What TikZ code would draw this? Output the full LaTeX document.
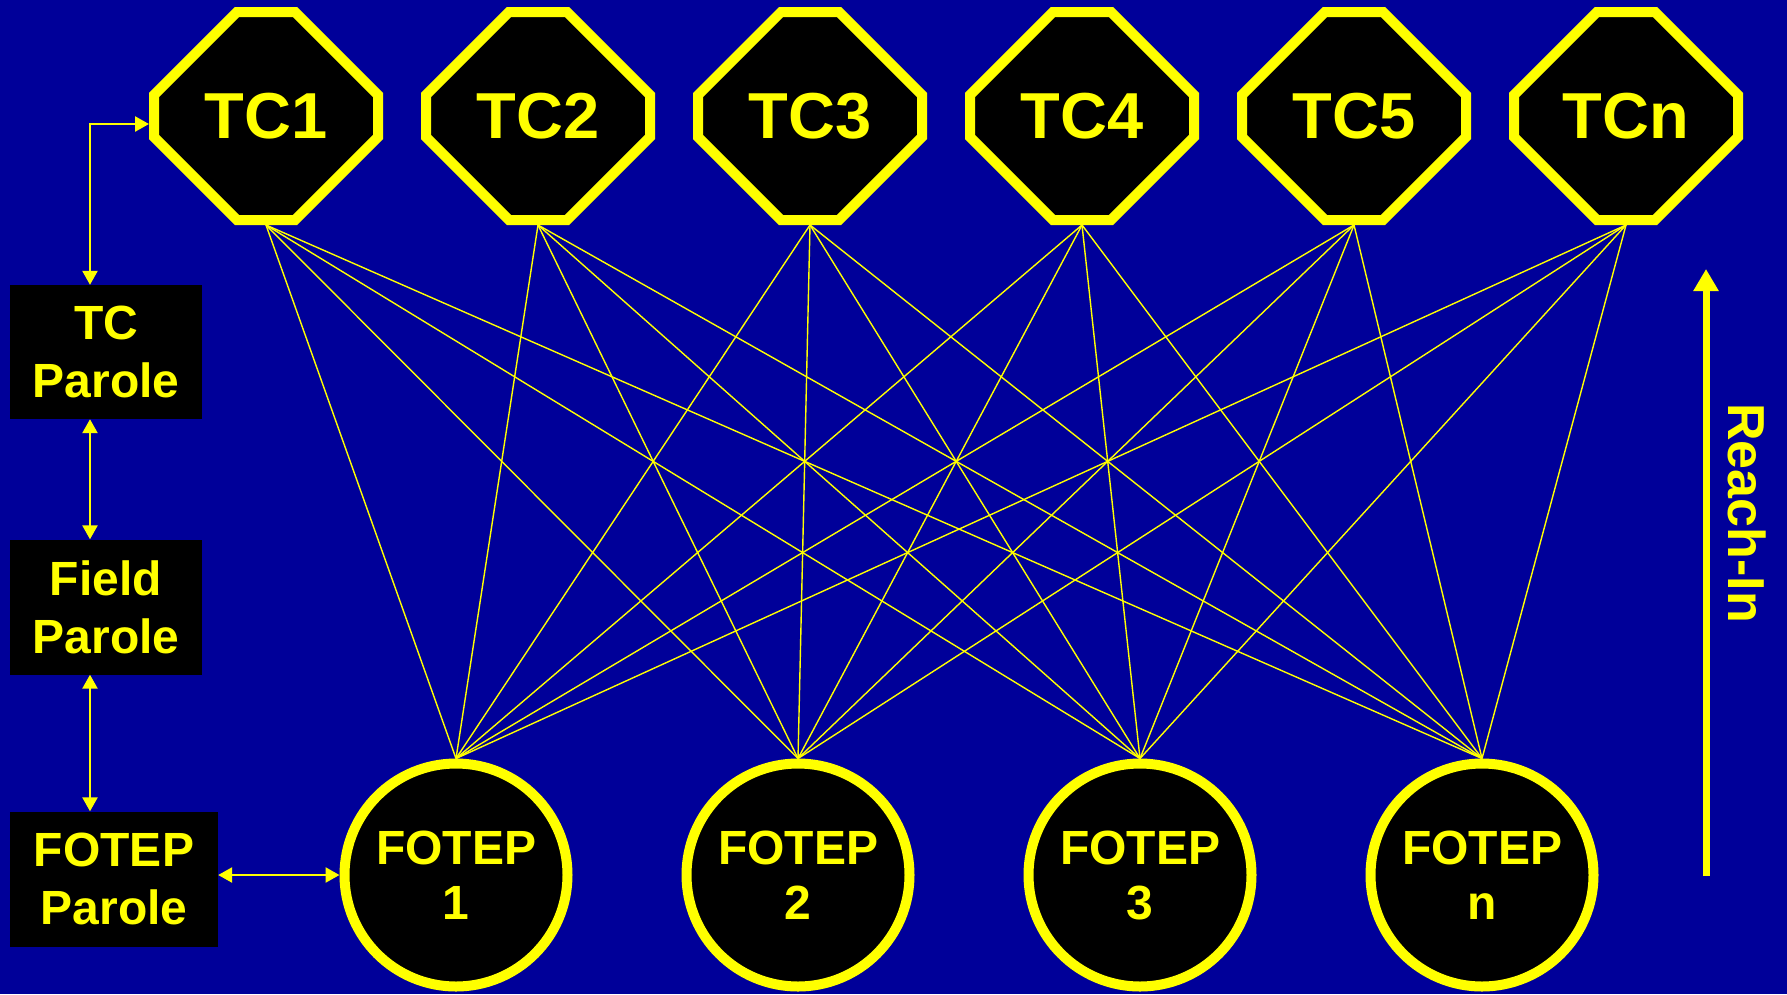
\documentclass[tikz,border=0pt]{standalone}
\usepackage{fontspec}
\setmainfont{Liberation Sans}
\usetikzlibrary{shapes.misc,arrows.meta}
\definecolor{slideblue}{RGB}{0,0,153}
\definecolor{signyellow}{RGB}{255,255,0}
\tikzset{
  tcnode/.style={chamfered rectangle, chamfered rectangle angle=45,
    chamfered rectangle xsep=60pt, chamfered rectangle ysep=60pt,
    minimum width=224pt, minimum height=208pt, inner sep=0pt,
    draw=signyellow, line width=10pt, fill=black, text=signyellow,
    font=\fontsize{65}{65}\selectfont\bfseries},
  fotepnode/.style={circle, minimum size=223pt, inner sep=0pt,
    draw=signyellow, line width=10pt, fill=black, text=signyellow,
    align=center, font=\fontsize{48}{55}\selectfont\bfseries},
  parolebox/.style={fill=black, text=signyellow, align=center, inner sep=0pt,
    font=\fontsize{48}{58}\selectfont\bfseries},
  link/.style={{Triangle[width=15pt,length=14pt]}-{Triangle[width=15pt,length=14pt]},
    draw=signyellow, line width=2.5pt},
  mesh/.style={draw=signyellow, line width=1.4pt}
}
\begin{document}
\begin{tikzpicture}[x=1pt,y=-1pt]
\fill[slideblue] (0,0) rectangle (1787,994);
\node[tcnode] (tc1) at (266,116) {TC1};
\node[tcnode] (tc2) at (538,116) {TC2};
\node[tcnode] (tc3) at (810,116) {TC3};
\node[tcnode] (tc4) at (1082,116) {TC4};
\node[tcnode] (tc5) at (1354,116) {TC5};
\node[tcnode] (tcn) at (1626,116) {TCn};
\node[fotepnode] (fotep1) at (456,875) {FOTEP\\1};
\node[fotepnode] (fotep2) at (798,875) {FOTEP\\2};
\node[fotepnode] (fotep3) at (1140,875) {FOTEP\\3};
\node[fotepnode] (fotepn) at (1482,875) {FOTEP\\n};
\node[parolebox, minimum width=192pt, minimum height=134pt] (tcparole) at (106,352) {TC\\Parole};
\node[parolebox, minimum width=192pt, minimum height=135pt] (fieldparole) at (106,607) {Field\\Parole};
\node[parolebox, minimum width=208pt, minimum height=135pt] (foteparole) at (114,879) {FOTEP\\Parole};
\foreach \t in {tc1,tc2,tc3,tc4,tc5,tcn}
  \foreach \f in {fotep1,fotep2,fotep3,fotepn}
    \draw[mesh] (\t.south) -- (\f.north);
\draw[link] ([yshift=-8pt]tc1.west) -| ([xshift=-16pt]tcparole.north);
\draw[link] ([xshift=-16pt]tcparole.south) -- ([xshift=-16pt]fieldparole.north);
\draw[link] ([xshift=-16pt]fieldparole.south) -- ([xshift=-24pt]foteparole.north);
\draw[link] (fotep1.west -| foteparole.east) -- (fotep1.west);
\coordinate (reachbase) at (1706,876);
\coordinate (reachtop) at (1706,269);
\draw[-{Triangle[width=24pt,length=22pt]}, draw=signyellow, fill=signyellow, line width=7pt] (reachbase) -- (reachtop);
\node[rotate=-90, text=signyellow, font=\fontsize{52}{52}\selectfont\bfseries] (reachin) at (1747,513) {Reach-In};
\end{tikzpicture}
\end{document}
